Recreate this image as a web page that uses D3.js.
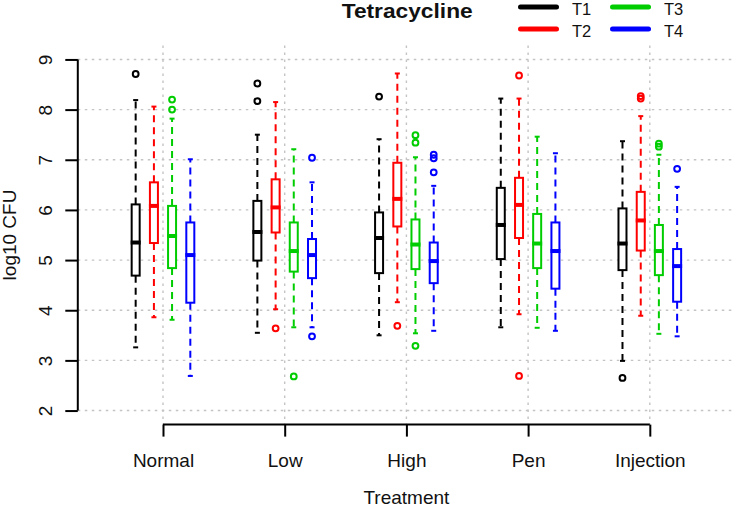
<!DOCTYPE html>
<html>
<head>
<meta charset="utf-8">
<script src="https://cdn.jsdelivr.net/npm/d3@7"></script>
<style>
  html, body { margin: 0; padding: 0; background: #fff; }
  svg { display: block; font-family: "Liberation Sans", Arial, sans-serif; }
</style>
</head>
<body>
<svg id="chart" width="733" height="506"></svg>
<script>
// ---- data ----
const categories = ["Normal", "Low", "High", "Pen", "Injection"];
const seriesNames = ["T1", "T2", "T3", "T4"];
const seriesColors = ["#000000", "#ff0000", "#00cd00", "#0000ff"];
const yTicks = [2, 3, 4, 5, 6, 7, 8, 9];
const chartTitle = "Tetracycline";
const xTitle = "Treatment";
const yTitle = "log10 CFU";

// each entry: [lower whisker, Q1, median, Q3, upper whisker] per category
const statsT1 = [
  [3.26, 4.69, 5.35, 6.11, 8.19],
  [3.55, 4.99, 5.56, 6.18, 7.50],
  [3.50, 4.74, 5.44, 5.95, 7.41],
  [3.66, 5.02, 5.70, 6.44, 8.22],
  [2.99, 4.80, 5.33, 6.03, 7.37]
];
const statsT2 = [
  [3.86, 5.34, 6.08, 6.55, 8.06],
  [4.02, 5.55, 6.05, 6.61, 8.15],
  [4.16, 5.67, 6.22, 6.94, 8.72],
  [3.92, 5.44, 6.10, 6.64, 8.22],
  [3.89, 5.19, 5.79, 6.36, 7.87]
];
const statsT3 = [
  [3.81, 4.84, 5.48, 6.08, 7.82],
  [3.66, 4.77, 5.18, 5.75, 7.21],
  [3.54, 4.82, 5.31, 5.81, 7.05],
  [3.65, 4.84, 5.33, 5.92, 7.46],
  [3.53, 4.70, 5.18, 5.70, 7.10]
];
const statsT4 = [
  [2.69, 4.15, 5.10, 5.75, 7.01],
  [3.66, 4.64, 5.10, 5.42, 6.55],
  [3.59, 4.54, 4.98, 5.35, 6.48],
  [3.59, 4.43, 5.18, 5.75, 7.13],
  [3.48, 4.17, 4.88, 5.22, 6.46]
];
// outliers per category
const outT1 = [[8.71], [8.52, 8.17], [8.26], [], [2.65]];
const outT2 = [[], [3.64], [3.69], [8.68, 2.69], [8.27, 8.22]];
const outT3 = [[8.20, 8.00], [2.68], [7.49, 7.34, 3.29], [], [7.32, 7.26]];
const outT4 = [[], [7.04, 3.48], [7.10, 7.03, 6.75], [], [6.82]];

const allStats = [statsT1, statsT2, statsT3, statsT4];
const allOut = [outT1, outT2, outT3, outT4];

// ---- layout ----
const svg = d3.select("#chart");
const plotLeft = 77.8, plotRight = 735, plotTop = 45.4, plotBottom = 424.6;

const x = d3.scaleLinear().domain([0.3, 5.7]).range([plotLeft, plotRight]);
const y = d3.scaleLinear().domain([1.72, 9.28]).range([plotBottom, plotTop]);
const offsets = [-0.2245, -0.0745, 0.0745, 0.2245];
const boxHalf = 4;     // px, box half width (stroke centre)
const stapleHalf = 2.5;

// ---- grid ----
const grid = svg.append("g");
grid.selectAll("line.h").data(yTicks).enter().append("line")
  .attr("x1", plotLeft).attr("x2", plotRight)
  .attr("y1", d => y(d)).attr("y2", d => y(d))
  .attr("stroke", "#c4c4c4").attr("stroke-width", 1.4)
  .attr("stroke-dasharray", "2.5,4.5");
grid.selectAll("line.v").data(categories).enter().append("line")
  .attr("x1", (d, i) => x(i + 1)).attr("x2", (d, i) => x(i + 1))
  .attr("y1", plotTop).attr("y2", plotBottom)
  .attr("stroke", "#c4c4c4").attr("stroke-width", 1.4)
  .attr("stroke-dasharray", "2.5,4.5");

// ---- boxes ----
allStats.forEach((stats, s) => {
  const col = seriesColors[s];
  const g = svg.append("g");
  stats.forEach((st, i) => {
    const cx = x(i + 1 + offsets[s]);
    const [lo, q1, med, q3, hi] = st;
    // whiskers
    g.append("line").attr("x1", cx).attr("x2", cx)
      .attr("y1", y(q3)).attr("y2", y(hi))
      .attr("stroke", col).attr("stroke-width", 2).attr("stroke-dasharray", "7,5");
    g.append("line").attr("x1", cx).attr("x2", cx)
      .attr("y1", y(q1)).attr("y2", y(lo))
      .attr("stroke", col).attr("stroke-width", 2).attr("stroke-dasharray", "7,5");
    // staples
    [lo, hi].forEach(v => {
      g.append("line").attr("x1", cx - stapleHalf).attr("x2", cx + stapleHalf)
        .attr("y1", y(v)).attr("y2", y(v))
        .attr("stroke", col).attr("stroke-width", 2);
    });
    // box
    g.append("rect").attr("x", cx - boxHalf).attr("width", boxHalf * 2)
      .attr("y", y(q3)).attr("height", y(q1) - y(q3))
      .attr("fill", "#fff").attr("stroke", col).attr("stroke-width", 2);
    // median
    g.append("line").attr("x1", cx - boxHalf - 1).attr("x2", cx + boxHalf + 1)
      .attr("y1", y(med)).attr("y2", y(med))
      .attr("stroke", col).attr("stroke-width", 4);
    // outliers
    allOut[s][i].forEach(v => {
      g.append("circle").attr("cx", cx).attr("cy", y(v)).attr("r", 2.9)
        .attr("fill", "none").attr("stroke", col).attr("stroke-width", 2);
    });
  });
});

// ---- y axis ----
const yAxisG = svg.append("g").attr("transform", `translate(${plotLeft},0)`)
  .call(d3.axisLeft(y).tickValues(yTicks).tickSize(12.5).tickSizeOuter(0).tickFormat(d3.format("d")));
yAxisG.select(".domain").remove();
yAxisG.selectAll(".tick line").attr("stroke", "#000").attr("stroke-width", 2);
yAxisG.selectAll(".tick text")
  .attr("x", null).attr("dy", null)
  .attr("transform", "translate(-26,0) rotate(-90)")
  .attr("text-anchor", "middle")
  .attr("font-size", 19).attr("fill", "#111")
  .attr("font-family", "Liberation Sans, Arial, sans-serif");
yAxisG.append("line").attr("x1", 0).attr("x2", 0)
  .attr("y1", y(yTicks[0])).attr("y2", y(yTicks[yTicks.length - 1]))
  .attr("stroke", "#000").attr("stroke-width", 2);

// ---- x axis ----
const xAxisG = svg.append("g").attr("transform", `translate(0,${plotBottom})`)
  .call(d3.axisBottom(x).tickValues(d3.range(1, categories.length + 1)).tickSize(12)
    .tickSizeOuter(0).tickFormat(d => categories[d - 1]));
xAxisG.select(".domain").remove();
xAxisG.selectAll(".tick line").attr("stroke", "#000").attr("stroke-width", 2);
xAxisG.selectAll(".tick text")
  .attr("y", 42.5).attr("dy", null)
  .attr("font-size", 19).attr("fill", "#111")
  .attr("font-family", "Liberation Sans, Arial, sans-serif");
xAxisG.append("line").attr("x1", x(1)).attr("x2", x(categories.length))
  .attr("y1", 0).attr("y2", 0).attr("stroke", "#000").attr("stroke-width", 2);

// ---- titles ----
svg.append("text").attr("x", x(3)).attr("y", 503.5).attr("text-anchor", "middle")
  .attr("font-size", 19).attr("fill", "#111").text(xTitle);
svg.append("text").attr("transform", "translate(16,235) rotate(-90)")
  .attr("text-anchor", "middle").attr("font-size", 19).attr("fill", "#111").text(yTitle);
svg.append("text").attr("x", 341.7).attr("y", 18)
  .attr("font-size", 21).attr("font-weight", "bold").attr("fill", "#111")
  .attr("textLength", 131).attr("lengthAdjust", "spacingAndGlyphs")
  .text(chartTitle);

// ---- legend ----
const legend = svg.append("g");
seriesNames.forEach((name, s) => {
  const colIdx = Math.floor(s / 2), rowIdx = s % 2;
  const lx = 518 + colIdx * 92, ly = 7 + rowIdx * 22;
  legend.append("line").attr("x1", lx + 2.5).attr("x2", lx + 38.5)
    .attr("y1", ly).attr("y2", ly)
    .attr("stroke", seriesColors[s]).attr("stroke-width", 5).attr("stroke-linecap", "round");
  legend.append("text").attr("x", lx + 54).attr("y", ly + 7.6)
    .attr("font-size", 16.5).attr("fill", "#111").text(name);
});
</script>
</body>
</html>
